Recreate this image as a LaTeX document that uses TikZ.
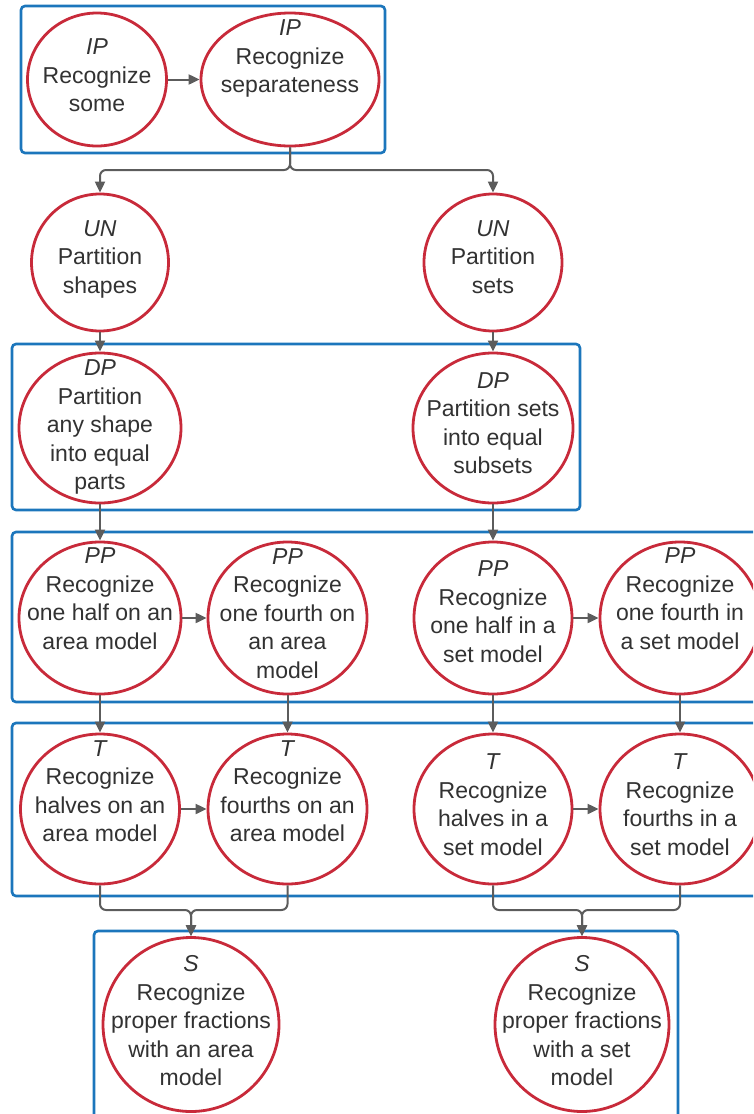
\documentclass[tikz,border=0pt]{standalone}
\usepackage{fontspec}
\setmainfont{Liberation Sans}
\usetikzlibrary{shapes.geometric,arrows.meta,calc}
\definecolor{bubred}{RGB}{200,42,58}
\definecolor{grpblue}{RGB}{28,118,188}
\definecolor{linkgray}{RGB}{92,92,92}
\definecolor{txtgray}{RGB}{50,50,50}
\tikzset{
  bubble/.style 2 args={ellipse, draw=bubred, line width=2.8pt, fill=white,
    inner sep=0pt, minimum width=#1pt, minimum height=#2pt},
  txt/.style={align=center, text=txtgray, inner sep=0pt,
    font=\fontsize{23}{28.5}\selectfont},
  group/.style={draw=grpblue, line width=2.6pt, rounded corners=4pt},
  link/.style={draw=linkgray, line width=2pt, rounded corners=6pt,
    -{Triangle[length=11pt,width=10pt]}}
}
\begin{document}
\begin{tikzpicture}[x=1pt,y=-1pt]
\useasboundingbox (0,0) rectangle (753,1114);
\clip (0,0) rectangle (753,1114);

% group frames
\draw[group] (21,6) rectangle (385,153);
\draw[group] (12,344) rectangle (580,510);
\draw[group] (12,532) rectangle (780,702);
\draw[group] (12,723) rectangle (780,896);
\draw[group] (94,931) rectangle (678,1140);

% bubbles
\node[bubble={139}{133}] (some) at (97,79.5) {};
\node[bubble={178}{133}] (sep) at (290,79.5) {};
\node[bubble={137}{137}] (unl) at (100,262.5) {};
\node[bubble={138}{137}] (unr) at (493,262.5) {};
\node[bubble={162}{150}] (dpl) at (100,428) {};
\node[bubble={160}{150}] (dpr) at (493,428) {};
\node[bubble={162}{152}] (ppa) at (100,618) {};
\node[bubble={159}{152}] (ppb) at (287.5,618) {};
\node[bubble={158}{152}] (ppc) at (493,618) {};
\node[bubble={160}{152}] (ppd) at (680,618) {};
\node[bubble={159}{150}] (ta) at (100,809) {};
\node[bubble={159}{150}] (tb) at (287.5,809) {};
\node[bubble={158}{150}] (tc) at (493,809) {};
\node[bubble={160}{150}] (td) at (680,809) {};
\node[bubble={176}{174}] (sa) at (191,1024.5) {};
\node[bubble={174}{174}] (sb) at (582,1024.5) {};

% bubble texts
\node[txt] (somet) at (97,77.3) {\strut\textit{IP}\\Recognize\\some\strut};
\node[txt] (sept) at (290,58.3) {\strut\textit{IP}\\Recognize\\separateness\strut};
\node[txt] (unlt) at (100,258.8) {\strut\textit{UN}\\Partition\\shapes\strut};
\node[txt] (unrt) at (493,258.8) {\strut\textit{UN}\\Partition\\sets\strut};
\node[txt] (dplt) at (100,426.8) {\strut\textit{DP}\\Partition\\any shape\\into equal\\parts\strut};
\node[txt] (dprt) at (493,425.3) {\strut\textit{DP}\\Partition sets\\into equal\\subsets\strut};
\node[txt] (ppat) at (100,600.8) {\strut\textit{PP}\\Recognize\\one half on an\\area model\strut};
\node[txt] (ppbt) at (287.5,615.3) {\strut\textit{PP}\\Recognize\\one fourth on\\an area\\model\strut};
\node[txt] (ppct) at (493,613.8) {\strut\textit{PP}\\Recognize\\one half in a\\set model\strut};
\node[txt] (ppdt) at (680,600.8) {\strut\textit{PP}\\Recognize\\one fourth in\\a set model\strut};
\node[txt] (tat) at (100,793.3) {\strut\textit{T}\\Recognize\\halves on an\\area model\strut};
\node[txt] (tbt) at (287.5,793.3) {\strut\textit{T}\\Recognize\\fourths on an\\area model\strut};
\node[txt] (tct) at (493,806.8) {\strut\textit{T}\\Recognize\\halves in a\\set model\strut};
\node[txt] (tdt) at (680,806.8) {\strut\textit{T}\\Recognize\\fourths in a\\set model\strut};
\node[txt] (sat) at (191,1022.8) {\strut\textit{S}\\Recognize\\proper fractions\\with an area\\model\strut};
\node[txt] (sbt) at (582,1022.8) {\strut\textit{S}\\Recognize\\proper fractions\\with a set\\model\strut};

% junction points
\coordinate (split) at (290,170);
\coordinate (joina) at (191,910);
\coordinate (joinb) at (582,910);

% connectors
\draw[link] (some) -- (sep);
\draw[link] (sep.south) -- (split) -| (unl.north);
\draw[link] (sep.south) -- (split) -| (unr.north);
\draw[link] (unl) -- (dpl);
\draw[link] (unr) -- (dpr);
\draw[link] (dpl) -- (ppa);
\draw[link] (dpr) -- (ppc);
\draw[link] (ppa) -- (ppb);
\draw[link] (ppc) -- (ppd);
\draw[link] (ppa) -- (ta);
\draw[link] (ppb) -- (tb);
\draw[link] (ppc) -- (tc);
\draw[link] (ppd) -- (td);
\draw[link] (ta) -- (tb);
\draw[link] (tc) -- (td);
\draw[link] (ta.south) |- (joina) -- (sa.north);
\draw[link] (tb.south) |- (joina) -- (sa.north);
\draw[link] (tc.south) |- (joinb) -- (sb.north);
\draw[link] (td.south) |- (joinb) -- (sb.north);
\end{tikzpicture}
\end{document}
